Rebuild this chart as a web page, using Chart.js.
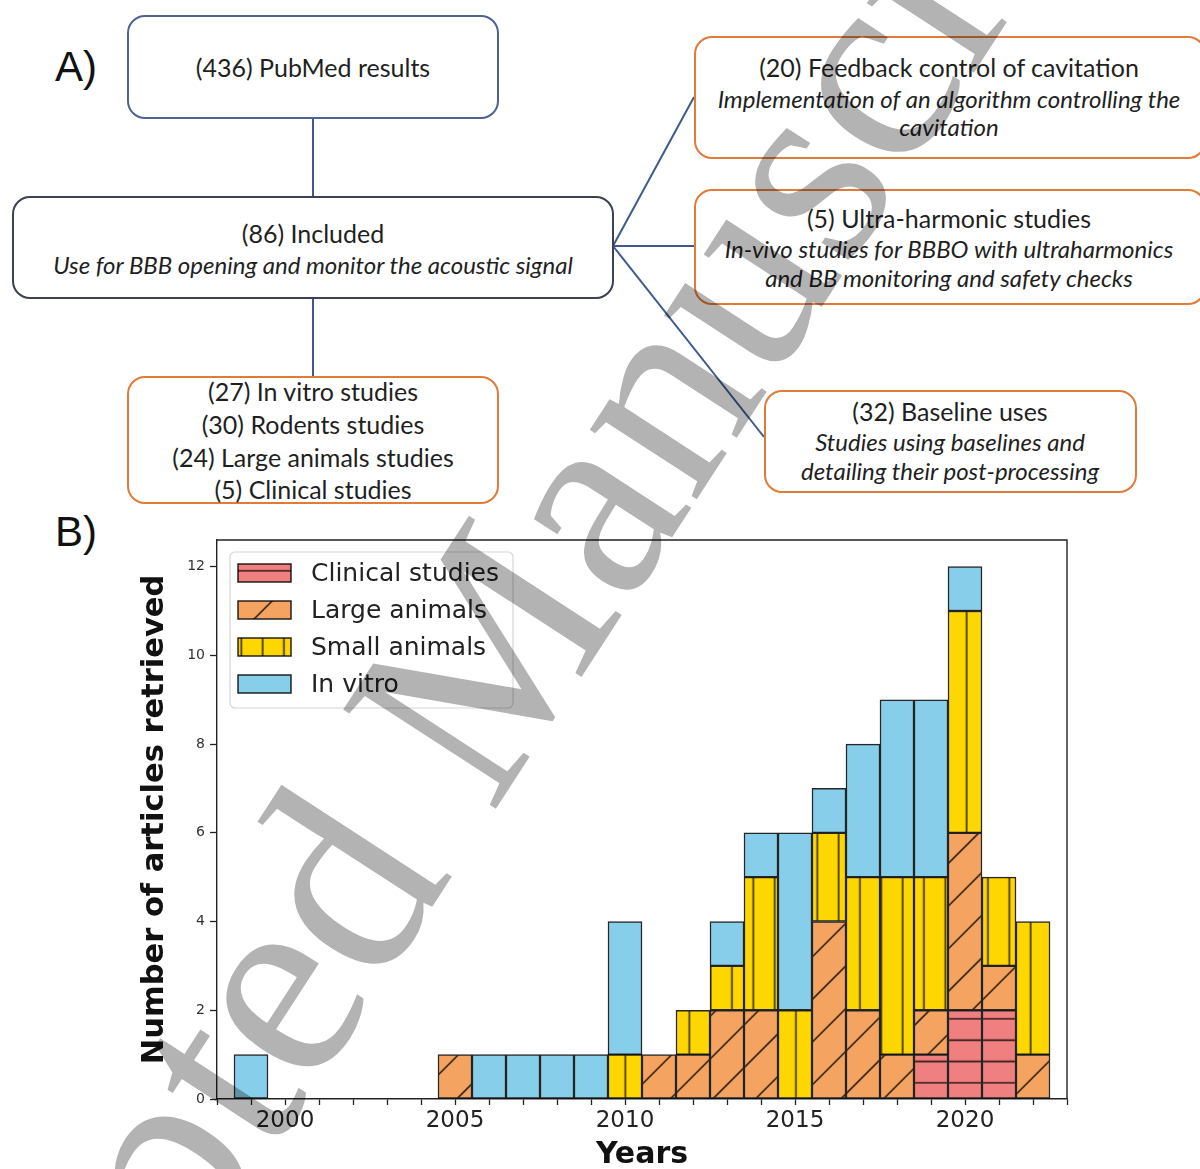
<!DOCTYPE html>
<html>
<head>
<meta charset="utf-8">
<title>Articles retrieved</title>
<script src="https://cdn.jsdelivr.net/npm/chart.js@4.4.1/dist/chart.umd.min.js"></script>
<style>
  html, body { margin: 0; padding: 0; background: #fff; }
  #page { position: relative; width: 1200px; height: 1169px; overflow: hidden; background: #fff; }
  .box { position: absolute; box-sizing: border-box; border: 2px solid #E07B39; border-radius: 18px; background: #fff; }
  .box.blue { border-color: #4F6390; }
  .box.dark { border-color: #3A4150; }
  .t { position: absolute; transform: translate(-50%, -50%); white-space: nowrap;
       font-family: Lato, "Open Sans", sans-serif; font-size: 25px; color: #1f1f1f; line-height: 30px; }
  .t.it { font-style: italic; font-size: 24px; }
  .tag { position: absolute; font-family: "Liberation Sans", Arial, sans-serif; font-size: 42px; color: #111; line-height: 42px; }
  #chart { position: absolute; left: 0; top: 500px; }
  #mark { position: absolute; left: 0; top: 0; mix-blend-mode: multiply; pointer-events: none; }
</style>
</head>
<body>
<div id="page">
  <svg width="1200" height="520" style="position:absolute;left:0;top:0">
    <g stroke="#3F5A8C" stroke-width="2" fill="none">
      <line x1="313" y1="118" x2="313" y2="196"/>
      <line x1="313" y1="298" x2="313" y2="377"/>
      <line x1="613" y1="246" x2="694" y2="97"/>
      <line x1="613" y1="246" x2="694" y2="246"/>
      <line x1="613" y1="246" x2="764" y2="437"/>
    </g>
  </svg>

  <div class="tag" style="left:55px;top:46px">A)</div>
  <div class="tag" style="left:55px;top:511px">B)</div>

  <div class="box blue" style="left:127px;top:15px;width:372px;height:104px"></div>
  <div class="t" style="left:313px;top:67px">(436) PubMed results</div>

  <div class="box dark" style="left:12px;top:196px;width:602px;height:103px"></div>
  <div class="t" style="left:313px;top:233px">(86) Included</div>
  <div class="t it" style="left:313px;top:265px">Use for BBB opening and monitor the acoustic signal</div>

  <div class="box" style="left:127px;top:376px;width:372px;height:128px"></div>
  <div class="t" style="left:313px;top:391px">(27) In vitro studies</div>
  <div class="t" style="left:313px;top:424px">(30) Rodents studies</div>
  <div class="t" style="left:313px;top:457px">(24) Large animals studies</div>
  <div class="t" style="left:313px;top:489px">(5) Clinical studies</div>

  <div class="box" style="left:694px;top:36px;width:512px;height:123px"></div>
  <div class="t" style="left:949px;top:67px">(20) Feedback control of cavitation</div>
  <div class="t it" style="left:949px;top:99px">Implementation of an algorithm controlling the</div>
  <div class="t it" style="left:949px;top:127px">cavitation</div>

  <div class="box" style="left:694px;top:189px;width:512px;height:116px"></div>
  <div class="t" style="left:949px;top:218px">(5) Ultra-harmonic studies</div>
  <div class="t it" style="left:949px;top:249px">In-vivo studies for BBBO with ultraharmonics</div>
  <div class="t it" style="left:949px;top:278px">and BB monitoring and safety checks</div>

  <div class="box" style="left:764px;top:390px;width:373px;height:103px"></div>
  <div class="t" style="left:950px;top:411px">(32) Baseline uses</div>
  <div class="t it" style="left:950px;top:442px">Studies using baselines and</div>
  <div class="t it" style="left:950px;top:471px">detailing their post-processing</div>

  <canvas id="chart" width="1200" height="669"></canvas>

  <svg id="mark" width="1200" height="1169">
    <text transform="translate(-118,1754) rotate(-57)" font-family="Liberation Serif, serif" font-size="278" fill="#b3b3b3">Accepted Manuscript</text>
  </svg>
</div>

<script>
// articles per year, stacked bottom -> top
const years = [1999, 2000, 2001, 2002, 2003, 2004, 2005, 2006, 2007, 2008, 2009, 2010,
               2011, 2012, 2013, 2014, 2015, 2016, 2017, 2018, 2019, 2020, 2021, 2022];
const clinical     = [0, 0, 0, 0, 0, 0, 0, 0, 0, 0, 0, 0, 0, 0, 0, 0, 0, 0, 0, 0, 1, 2, 2, 0];
const largeAnimals = [0, 0, 0, 0, 0, 0, 1, 0, 0, 0, 0, 0, 1, 1, 2, 2, 0, 4, 2, 1, 1, 4, 1, 1];
const smallAnimals = [0, 0, 0, 0, 0, 0, 0, 0, 0, 0, 0, 1, 0, 1, 1, 3, 2, 2, 3, 4, 3, 5, 2, 3];
const inVitro      = [1, 0, 0, 0, 0, 0, 0, 1, 1, 1, 1, 3, 0, 0, 1, 1, 4, 1, 3, 4, 4, 1, 0, 0];

const seriesNames  = ['Clinical studies', 'Large animals', 'Small animals', 'In vitro'];
const seriesColors = ['#F08080', '#F4A460', '#FFD700', '#87CEEB'];
const seriesHatch  = ['-', '/', '|', ''];
const yTicks = [0, 2, 4, 6, 8, 10, 12];
const xTickLabels = [2000, 2005, 2010, 2015, 2020];

const canvas = document.getElementById('chart');
const ctx = canvas.getContext('2d');

// matplotlib-like hatch fills, 6 lines per 128px cell
const hatchShift = { '-': [0, 6.8], '/': [31.7, 0], '|': [6.6, 0] };
function makeFill(color, kind) {
    if (!kind) return color;
    const T = 128, step = T / 6;
    const tile = document.createElement('canvas');
    tile.width = T; tile.height = T;
    const g = tile.getContext('2d');
    g.fillStyle = color;
    g.fillRect(0, 0, T, T);
    g.strokeStyle = 'rgba(0,0,0,0.8)';
    g.lineWidth = 1.6;
    g.beginPath();
    for (let i = 0; i <= 6; i++) {
        if (kind === '|') { g.moveTo(i * step, 0); g.lineTo(i * step, T); }
        if (kind === '-') { g.moveTo(0, i * step); g.lineTo(T, i * step); }
        if (kind === '/') { const c = i * T / 3; g.moveTo(c + 4, -4); g.lineTo(-4, c + 4); }
    }
    g.stroke();
    const p = ctx.createPattern(tile, 'repeat');
    const s = hatchShift[kind];
    p.setTransform(new DOMMatrix().translate(s[0], s[1]));
    return p;
}

const seriesData = [clinical, largeAnimals, smallAnimals, inVitro];
const fills = seriesColors.map((c, i) => makeFill(c, seriesHatch[i]));

const frameAndLegend = {
    id: 'frameAndLegend',
    afterDraw(chart) {
        const c = chart.ctx;
        const a = chart.chartArea;
        c.save();
        // top and right spines
        c.strokeStyle = '#222';
        c.lineWidth = 1.4;
        c.beginPath();
        c.moveTo(a.left, a.top); c.lineTo(a.right, a.top); c.lineTo(a.right, a.bottom);
        c.stroke();

        // legend
        c.fillStyle = 'rgba(255,255,255,0.8)';
        c.strokeStyle = '#d6d6d6';
        c.lineWidth = 1.2;
        c.beginPath();
        c.roundRect(230, 52, 283, 156, 5);
        c.fill(); c.stroke();
        c.font = '25px "DejaVu Sans"';
        c.textBaseline = 'middle';
        seriesNames.forEach((name, i) => {
            const y = 73 + i * 37;
            c.fillStyle = fills[i];
            c.fillRect(238, y - 9, 53, 18);
            c.strokeStyle = 'rgba(0,0,0,0.85)';
            c.lineWidth = 1.5;
            c.strokeRect(238, y - 9, 53, 18);
            c.fillStyle = '#222';
            c.fillText(name, 311, y + 1);
        });
        c.restore();
    }
};

new Chart(ctx, {
    type: 'bar',
    data: {
        datasets: seriesNames.map((name, i) => ({
            label: name,
            data: years.map((yr, j) => ({ x: yr, y: seriesData[i][j] || null })),
            backgroundColor: fills[i],
            borderColor: 'rgba(0,0,0,0.85)',
            borderWidth: 1.5,
            borderSkipped: false,
            barPercentage: 1,
            categoryPercentage: 1
        }))
    },
    options: {
        responsive: false,
        animation: false,
        layout: { padding: { left: 0, right: 133, top: 40, bottom: 0 } },
        plugins: { legend: { display: false }, tooltip: { enabled: false } },
        scales: {
            x: {
                type: 'linear',
                stacked: true,
                min: 1998,
                max: 2023,
                offset: false,
                grid: { offset: false, drawOnChartArea: false, drawTicks: true, tickLength: 6, tickColor: '#222', tickWidth: 1.3 },
                border: { color: '#222', width: 1.4 },
                afterBuildTicks: s => {
                    const t = [];
                    for (let v = 1998; v <= 2023; v++) t.push({ value: v });
                    s.ticks = t;
                },
                ticks: {
                    autoSkip: false,
                    maxRotation: 0,
                    padding: 2,
                    color: '#222',
                    font: { family: 'DejaVu Sans', size: 23 },
                    callback: v => xTickLabels.includes(v) ? String(v) : ''
                },
                title: {
                    display: true,
                    text: 'Years',
                    color: '#111',
                    font: { family: 'DejaVu Sans', size: 30, weight: 'bold' },
                    padding: { top: 0, bottom: -4 }
                },
                afterFit: s => { s.height = 70; }
            },
            y: {
                stacked: true,
                min: 0,
                max: 12.6,
                grid: { drawOnChartArea: false, drawTicks: true, tickLength: 7, tickColor: '#222', tickWidth: 1.3 },
                border: { color: '#222', width: 1.4 },
                afterBuildTicks: s => { s.ticks = yTicks.map(v => ({ value: v })); },
                ticks: {
                    padding: 5,
                    color: '#333',
                    font: { family: 'DejaVu Sans', size: 14 }
                },
                title: {
                    display: true,
                    text: 'Number of articles retrieved',
                    color: '#111',
                    font: { family: 'DejaVu Sans', size: 30.5, weight: 'bold' },
                    padding: { top: 137, bottom: 0 }
                },
                afterFit: s => { s.width = 217; }
            }
        }
    },
    plugins: [frameAndLegend]
});
</script>
</body>
</html>
